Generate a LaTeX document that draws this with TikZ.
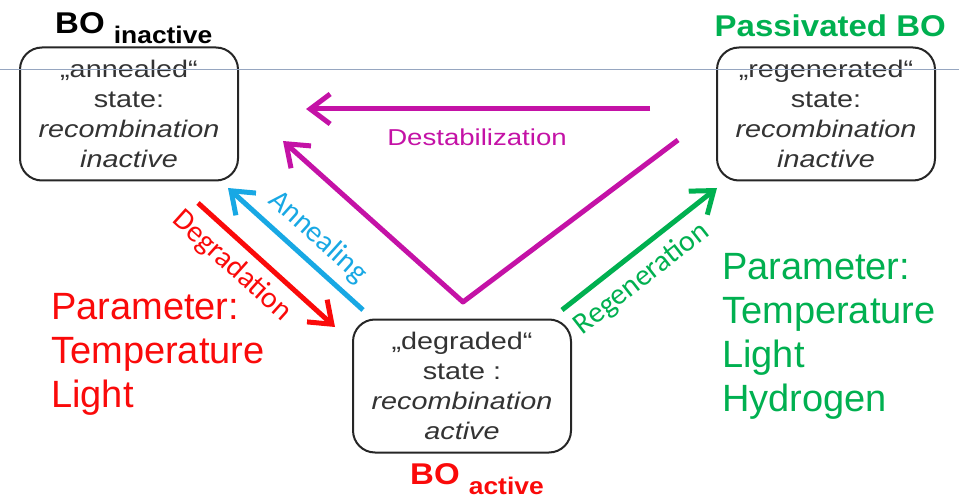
\documentclass[tikz,border=0pt]{standalone}
\usepackage{fontspec}
\setmainfont{Liberation Sans}
\newfontfamily\boxfont{Liberation Sans}[FakeStretch=1.2]
\newfontfamily\titlefont{Liberation Sans}[FakeStretch=1.1]
\newfontfamily\labelfont{Carlito}
\usetikzlibrary{arrows.meta,positioning}
\definecolor{destab}{RGB}{196,18,166}
\definecolor{anneal}{RGB}{24,168,228}
\definecolor{degrad}{RGB}{250,10,10}
\definecolor{regen}{RGB}{0,176,80}
\definecolor{slideline}{RGB}{150,166,192}
\tikzset{
  statebox/.style={draw=black!85, line width=2pt, rounded corners=22pt,
    minimum width=218pt, minimum height=133pt, align=center, inner sep=0pt,
    text=black!80, font={\boxfont\fontsize{24}{30}\selectfont}},
  transition/.style={line width=5pt, -{Straight Barb[length=20pt,width=30pt]}},
  arrowlabel/.style={inner sep=0pt, font={\labelfont\fontsize{30}{30}\selectfont}},
  botitle/.style={inner sep=0pt, font={\titlefont\bfseries\fontsize{30}{30}\selectfont}},
  params/.style={inner sep=0pt, align=left, anchor=north west,
    font={\fontsize{38}{44}\selectfont}}
}
\newcommand{\bosub}[1]{\raisebox{-10pt}{\fontsize{24}{24}\selectfont #1}}
\begin{document}
\begin{tikzpicture}[x=1pt,y=-1pt]
\useasboundingbox (0,0) rectangle (959,497);
% states
\node[statebox] (annealed) at (129,114) {„annealed“\\state:\\\textit{recombination}\\\textit{inactive}};
\node[statebox] (regenerated) at (826,114) {„regenerated“\\state:\\\textit{recombination}\\\textit{inactive}};
\node[statebox] (degraded) at (462,386) {„degraded“\\state :\\\textit{recombination}\\\textit{active}};
\node[botitle, anchor=base west] (boinactive) at (55,34) {BO \bosub{inactive}};
\node[botitle, anchor=base east, text=regen] (bopassiv) at (946,37) {Passivated BO};
\node[botitle, anchor=base west, text=degrad] (boactive) at (410,484) {BO \bosub{active}};
% ends of the arrows
\coordinate (destabA) at (650,109);
\coordinate (destabB) at (306,109);
\coordinate (destabR) at (678,140);
\coordinate (destabV) at (463,302);
\coordinate (destabL) at (283,141);
\coordinate (degA) at (198,203);
\coordinate (degB) at (335,327);
\coordinate (annA) at (363,310);
\coordinate (annB) at (228,188);
\coordinate (regA) at (562,310);
\coordinate (regB) at (717,188);
% transitions
\draw[transition, draw=destab] (destabA) -- (destabB);
\draw[transition, draw=destab, line join=round] (destabR) -- (destabV) -- (destabL);
\draw[transition, draw=degrad] (degA) -- (degB);
\draw[transition, draw=anneal] (annA) -- (annB);
\draw[transition, draw=regen] (regA) -- (regB);
\node[arrowlabel, text=destab, font={\boxfont\fontsize{23}{23}\selectfont}] (destablabel) at (477,137) {Destabilization};
\node[arrowlabel, text=anneal, rotate=-42] (anneallabel) at (318,237) {Annealing};
\node[arrowlabel, text=degrad, rotate=-42] (degradlabel) at (232,266) {Degradation};
\node[arrowlabel, text=regen, rotate=38] (regenlabel) at (642,279) {Regeneration};
% parameters
\node[params, text=degrad] (degparams) at (51,293) {Parameter:\\Temperature\\Light};
\node[params, text=regen] (regparams) at (722,253) {Parameter:\\Temperature\\Light\\Hydrogen};
\draw[slideline, line width=1pt] (0,70) -- (959,70);
\end{tikzpicture}
\end{document}
